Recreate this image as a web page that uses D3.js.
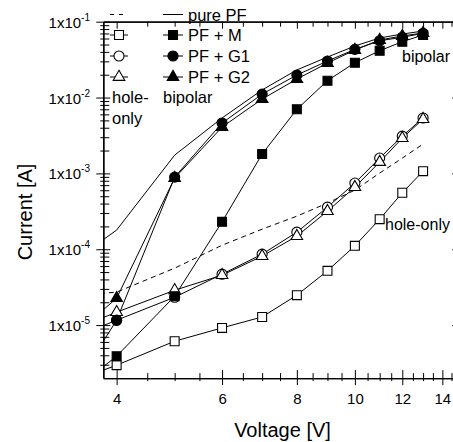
<!DOCTYPE html>
<html>
<head>
<meta charset="utf-8">
<script src="https://cdn.jsdelivr.net/npm/d3@7"></script>
<style>
  body { margin: 0; background: #fff; }
  svg { display: block; font-family: "Liberation Sans", Arial, sans-serif; }
</style>
</head>
<body>
<svg id="chart"></svg>
<script>
// Voltage steps (V). The first point sits left of the axis, only its line segment shows.
var voltage = [3.5, 4, 5, 6, 7, 8, 9, 10, 11, 12, 13];

// bipolar devices (filled symbols, solid line for pure PF)
var purePFBipolar = [8.4e-5, 1.79e-4, 1.74e-3, 5.37e-3, 1.26e-2, 2.31e-2, 3.42e-2, 4.78e-2, 6.10e-2, 6.88e-2, 7.53e-2];
var pfMBipolar    = [1.7e-6, 3.89e-6, 2.40e-5, 2.30e-4, 1.80e-3, 6.99e-3, 1.67e-2, 2.88e-2, 4.14e-2, 5.45e-2, 6.68e-2];
var pfG1Bipolar   = [2.2e-6, 1.16e-5, 8.93e-4, 4.61e-3, 1.11e-2, 1.98e-2, 3.03e-2, 4.32e-2, 5.61e-2, 6.23e-2, 7.03e-2];
var pfG2Bipolar   = [9.1e-6, 2.26e-5, 8.67e-4, 4.08e-3, 9.55e-3, 1.75e-2, 2.85e-2, 4.23e-2, 5.74e-2, 6.48e-2, 7.09e-2];

// hole-only devices (open symbols, dashed line for pure PF)
var purePFHole = [2.48e-5, 2.72e-5, 5.63e-5, 1.13e-4, 1.84e-4, 2.73e-4, 4.06e-4, 6.02e-4, 1.01e-3, 1.59e-3, 2.44e-3];
var pfMHole    = [2.0e-6, 2.96e-6, 6.13e-6, 9.18e-6, 1.28e-5, 2.48e-5, 5.19e-5, 1.11e-4, 2.49e-4, 5.55e-4, 1.07e-3];
var pfG1Hole   = [7.6e-6, 1.16e-5, 2.33e-5, 4.69e-5, 8.61e-5, 1.68e-4, 3.59e-4, 7.45e-4, 1.59e-3, 3.10e-3, 5.37e-3];
var pfG2Hole   = [9.7e-6, 1.48e-5, 2.88e-5, 4.55e-5, 8.11e-5, 1.49e-4, 3.18e-4, 6.59e-4, 1.41e-3, 2.92e-3, 5.20e-3];

var legendLabels = ["pure PF", "PF + M", "PF + G1", "PF + G2"];
var xTicks = [4, 6, 8, 10, 12, 14];
var yTicks = [1e-5, 1e-4, 1e-3, 1e-2, 1e-1];
var yTickExp = ["-5", "-4", "-3", "-2", "-1"];

// layout
var margin = {top: 21.7, left: 103.3},
    width = 357,
    height = 356.4;

var svg = d3.select("#chart").attr("width", 453).attr("height", 442);
var g = svg.append("g").attr("transform", "translate(" + margin.left + "," + margin.top + ")");

var x = d3.scaleLog().domain([3.8, 15]).range([0, width]);
var y = d3.scaleLog().domain([2e-6, 1e-1]).range([height, 0]);

// minor ticks: every 0.5 V, and 2..9 per decade
var xMinor = d3.range(4.5, 15, 0.5).filter(function(v) { return xTicks.indexOf(v) < 0; });
var yMinor = [];
[1e-6, 1e-5, 1e-4, 1e-3, 1e-2].forEach(function(d) {
  for (var k = 2; k <= 9; k++) {
    var v = d * k;
    if (v > 2.05e-6 && v < 0.099) yMinor.push(v);
  }
});

function styleAxis(sel) {
  sel.attr("font-size", 15).attr("font-family", "Liberation Sans, Arial, sans-serif");
  sel.select(".domain").attr("stroke", "#000").attr("stroke-width", 1.3);
  sel.selectAll(".tick line").attr("stroke", "#000").attr("stroke-width", 1);
}

// bottom axis
var bottomAxis = g.append("g").attr("transform", "translate(0," + height + ")")
  .call(d3.axisBottom(x).tickValues(xTicks).tickSize(7).tickSizeOuter(0).tickFormat(d3.format("d")));
bottomAxis.selectAll(".tick line").attr("y1", -8);
bottomAxis.selectAll(".tick text").attr("y", 25.7).attr("dy", null).attr("fill", "#000");
styleAxis(bottomAxis);
var bottomMinor = g.append("g").attr("transform", "translate(0," + height + ")")
  .call(d3.axisBottom(x).tickValues(xMinor).tickSize(3).tickSizeOuter(0).tickFormat(""));
bottomMinor.selectAll(".tick line").attr("y1", -5);
styleAxis(bottomMinor);

// top axis, ticks pointing inward
var topAxis = g.append("g")
  .call(d3.axisTop(x).tickValues(xTicks).tickSize(-7).tickSizeOuter(0).tickFormat(""));
styleAxis(topAxis);
var topMinor = g.append("g")
  .call(d3.axisTop(x).tickValues(xMinor).tickSize(-5).tickSizeOuter(0).tickFormat(""));
styleAxis(topMinor);

// left axis, ticks crossing the line
var leftAxis = g.append("g")
  .call(d3.axisLeft(y).tickValues(yTicks).tickSize(7).tickSizeOuter(0).tickFormat(""));
leftAxis.selectAll(".tick line").attr("x1", 7);
leftAxis.selectAll(".tick").append("text")
  .attr("x", -13.3).attr("y", 5.5)
  .attr("text-anchor", "end")
  .attr("fill", "#000")
  .each(function(d, i) {
    var t = d3.select(this);
    t.append("tspan").text("1x10");
    t.append("tspan").attr("dy", -7).attr("font-size", 10).text(yTickExp[i]);
  });
styleAxis(leftAxis);
var leftMinor = g.append("g")
  .call(d3.axisLeft(y).tickValues(yMinor).tickSize(3).tickSizeOuter(0).tickFormat(""));
leftMinor.selectAll(".tick line").attr("x1", 6);
styleAxis(leftMinor);

// right axis (mostly outside the picture)
var rightAxis = g.append("g").attr("transform", "translate(" + width + ",0)")
  .call(d3.axisRight(y).tickValues(yTicks).tickSize(-8).tickSizeOuter(0).tickFormat(""));
styleAxis(rightAxis);
var rightMinor = g.append("g").attr("transform", "translate(" + width + ",0)")
  .call(d3.axisRight(y).tickValues(yMinor).tickSize(-5).tickSizeOuter(0).tickFormat(""));
styleAxis(rightMinor);

// clip area for the curves
svg.append("defs").append("clipPath").attr("id", "plotClip")
  .append("rect").attr("x", 0).attr("y", 0).attr("width", width).attr("height", height);
var plot = g.append("g").attr("clip-path", "url(#plotClip)");

var line = d3.line()
  .x(function(d) { return x(d[0]); })
  .y(function(d) { return y(d[1]); });

var series = [
  {values: purePFHole,    symbol: null,               filled: false, dash: "5,4"},
  {values: purePFBipolar, symbol: null,               filled: false, dash: null},
  {values: pfMHole,       symbol: d3.symbolSquare,    filled: false, dash: null},
  {values: pfG1Hole,      symbol: d3.symbolCircle,    filled: false, dash: null},
  {values: pfG2Hole,      symbol: d3.symbolTriangle,  filled: false, dash: null},
  {values: pfMBipolar,    symbol: d3.symbolSquare,    filled: true,  dash: null},
  {values: pfG1Bipolar,   symbol: d3.symbolCircle,    filled: true,  dash: null},
  {values: pfG2Bipolar,   symbol: d3.symbolTriangle,  filled: true,  dash: null}
];

function symbolSize(s) {
  if (s === d3.symbolSquare) return 80;
  if (s === d3.symbolCircle) return 80;
  return 58;
}

series.forEach(function(s) {
  var pts = voltage.map(function(v, i) { return [v, s.values[i]]; });
  plot.append("path")
    .datum(pts)
    .attr("d", line)
    .attr("fill", "none")
    .attr("stroke", "#000")
    .attr("stroke-width", 1)
    .attr("stroke-dasharray", s.dash);
});

// markers drawn after all lines
series.forEach(function(s) {
  if (!s.symbol) return;
  var pts = voltage.map(function(v, i) { return [v, s.values[i]]; });
  plot.selectAll(null)
    .data(pts)
    .enter()
    .append("path")
    .attr("d", d3.symbol().type(s.symbol).size(symbolSize(s.symbol)))
    .attr("transform", function(d) { return "translate(" + x(d[0]) + "," + y(d[1]) + ")"; })
    .attr("fill", s.filled ? "#000" : "#fff")
    .attr("stroke", "#000")
    .attr("stroke-width", 1.1);
});

// legend
var legendRows = [14.5, 35, 56, 77];
var legendSymbols = [null, d3.symbolSquare, d3.symbolCircle, d3.symbolTriangle];
var legend = svg.append("g").style("font-size", "16.5px").attr("fill", "#000");

legendRows.forEach(function(ry, i) {
  // hole-only column
  legend.append("line")
    .attr("x1", 110).attr("x2", 128).attr("y1", ry).attr("y2", ry)
    .attr("stroke", "#000").attr("stroke-width", 1)
    .attr("stroke-dasharray", i === 0 ? "4,5" : null);
  // bipolar column
  legend.append("line")
    .attr("x1", 163).attr("x2", 183).attr("y1", ry).attr("y2", ry)
    .attr("stroke", "#000").attr("stroke-width", 1);
  if (legendSymbols[i]) {
    legend.append("path")
      .attr("d", d3.symbol().type(legendSymbols[i]).size(symbolSize(legendSymbols[i])))
      .attr("transform", "translate(119," + ry + ")")
      .attr("fill", "#fff").attr("stroke", "#000").attr("stroke-width", 1.1);
    legend.append("path")
      .attr("d", d3.symbol().type(legendSymbols[i]).size(symbolSize(legendSymbols[i])))
      .attr("transform", "translate(173," + ry + ")")
      .attr("fill", "#000").attr("stroke", "#000").attr("stroke-width", 1.1);
  }
  legend.append("text")
    .attr("x", 188).attr("y", ry + 6)
    .text(legendLabels[i]);
});

legend.append("text").attr("x", 112).attr("y", 103).text("hole-");
legend.append("text").attr("x", 112).attr("y", 124).text("only");
legend.append("text").attr("x", 163).attr("y", 103).text("bipolar");

// labels inside the plot
svg.append("text").attr("x", 402).attr("y", 61.7).style("font-size", "16px").text("bipolar");
svg.append("text").attr("x", 385).attr("y", 230).style("font-size", "16px").text("hole-only");

// axis titles
svg.append("text")
  .attr("x", 282.5).attr("y", 436.5)
  .attr("text-anchor", "middle")
  .style("font-size", "20px")
  .text("Voltage [V]");

svg.append("text")
  .attr("transform", "translate(31.5,212) rotate(-90)")
  .attr("text-anchor", "middle")
  .style("font-size", "20px")
  .text("Current [A]");
</script>
</body>
</html>
